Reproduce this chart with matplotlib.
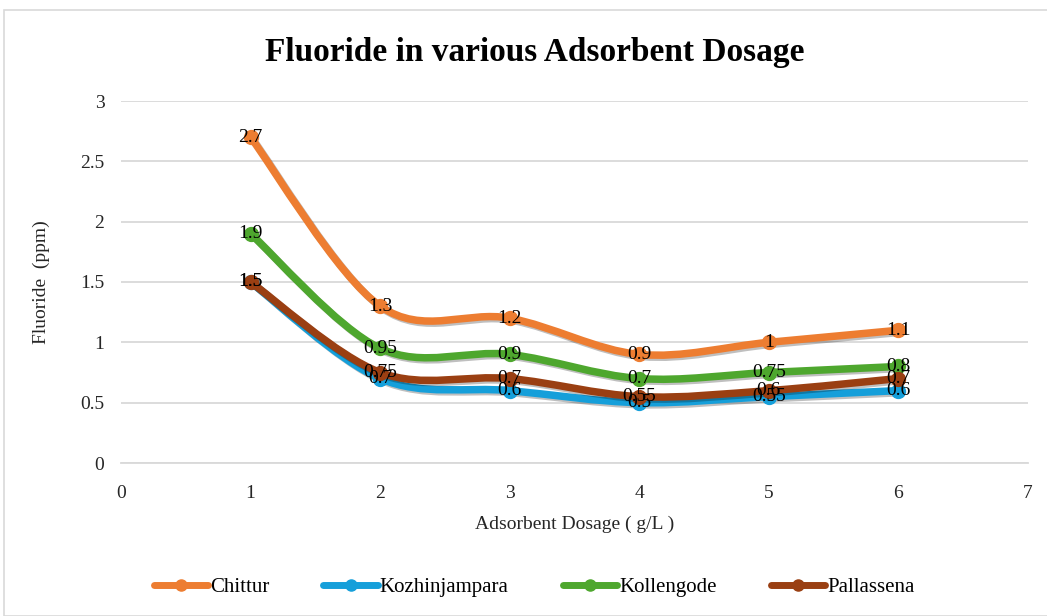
import matplotlib
matplotlib.use("Agg")
import matplotlib.pyplot as plt
from matplotlib.path import Path
from matplotlib.patches import PathPatch, Rectangle
import matplotlib.patheffects as pe

plt.rcParams['font.family'] = ['Liberation Serif', 'DejaVu Serif']

dosage = [1, 2, 3, 4, 5, 6]
chittur = [2.7, 1.3, 1.2, 0.9, 1.0, 1.1]
kozhinjampara = [1.5, 0.7, 0.6, 0.5, 0.55, 0.6]
kollengode = [1.9, 0.95, 0.9, 0.7, 0.75, 0.8]
pallassena = [1.5, 0.75, 0.7, 0.55, 0.6, 0.7]

series = [
    ("Chittur", chittur, "#ED7D31"),
    ("Kozhinjampara", kozhinjampara, "#159FDA"),
    ("Kollengode", kollengode, "#4EA72E"),
    ("Pallassena", pallassena, "#9A3F12"),
]

fig = plt.figure(figsize=(10.47, 6.16), dpi=100)
fig.patches.append(Rectangle((4/1047, 0), 1.2, 1 - 10/616, transform=fig.transFigure,
                             fill=False, edgecolor="#d9d9d9", linewidth=1.2))
ax = fig.add_axes([121/1047, 1 - 463/616, (1028-121)/1047, (463-101)/616])
ax.set_xlim(0, 7)
ax.set_ylim(0, 3)
ax.set_xticks(range(0, 8))
ax.set_yticks([0, 0.5, 1, 1.5, 2, 2.5, 3])
ax.set_yticklabels(["0", "0.5", "1", "1.5", "2", "2.5", "3"])
ax.grid(axis='y', color="#d9d9d9", linewidth=1.3)
ax.set_axisbelow(True)
for s in ['top', 'right', 'left']:
    ax.spines[s].set_visible(False)
ax.spines['bottom'].set_color("#d9d9d9")
ax.spines['bottom'].set_linewidth(1.3)
ax.tick_params(length=0, labelsize=14, colors="#262626")
ax.tick_params(axis='x', pad=16)
ax.tick_params(axis='y', pad=12)


def smooth_path(xs, ys):
    pts = list(zip(xs, ys))
    verts = [pts[0]]
    codes = [Path.MOVETO]
    n = len(pts)
    for i in range(n - 1):
        p0 = pts[i - 1] if i > 0 else pts[i]
        p1 = pts[i]
        p2 = pts[i + 1]
        p3 = pts[i + 2] if i + 2 < n else pts[i + 1]
        c1 = (p1[0] + (p2[0] - p0[0]) / 6, p1[1] + (p2[1] - p0[1]) / 6)
        c2 = (p2[0] - (p3[0] - p1[0]) / 6, p2[1] - (p3[1] - p1[1]) / 6)
        verts += [c1, c2, p2]
        codes += [Path.CURVE4] * 3
    return Path(verts, codes)

handles = []
for z, (name, vals, col) in enumerate(series):
    patch = PathPatch(smooth_path(dosage, vals), facecolor='none', edgecolor=col,
                      linewidth=5.4, capstyle='round', joinstyle='round', zorder=3 + z,
                      transform=ax.transData)
    patch.set_path_effects([pe.SimpleLineShadow(offset=(1.5, -1.5), alpha=0.25, shadow_color='black'),
                            pe.Normal()])
    ax.add_patch(patch)
    ax.plot(dosage, vals, linestyle='none', marker='o', markersize=10, color=col, zorder=3.5 + z)
    h, = ax.plot([], [], color=col, linewidth=5, marker='o', markersize=8, solid_capstyle='round')
    handles.append(h)

for z, (name, vals, col) in enumerate(series):
    for x, y in zip(dosage, vals):
        ax.text(x, y, f"{y:g}", ha='center', va='center', fontsize=14, color='black', zorder=10 + z)

ax.set_xlabel("Adsorbent Dosage ( g/L )", fontsize=14, color="#262626", labelpad=10)
ax.set_ylabel("Fluoride  (ppm)", fontsize=14, color="#262626", labelpad=22)
fig.text(535/1047, 1 - 52/616, "Fluoride in various Adsorbent Dosage", ha='center', va='center',
         fontsize=24, fontweight='bold', color='black')

fig.legend(handles, [s[0] for s in series], loc='center', bbox_to_anchor=(0.51, 1 - 587/616),
           ncol=4, frameon=False, fontsize=15, handlelength=2.6, columnspacing=2.6, handletextpad=0.1)

fig.savefig("out.png", dpi=100)
